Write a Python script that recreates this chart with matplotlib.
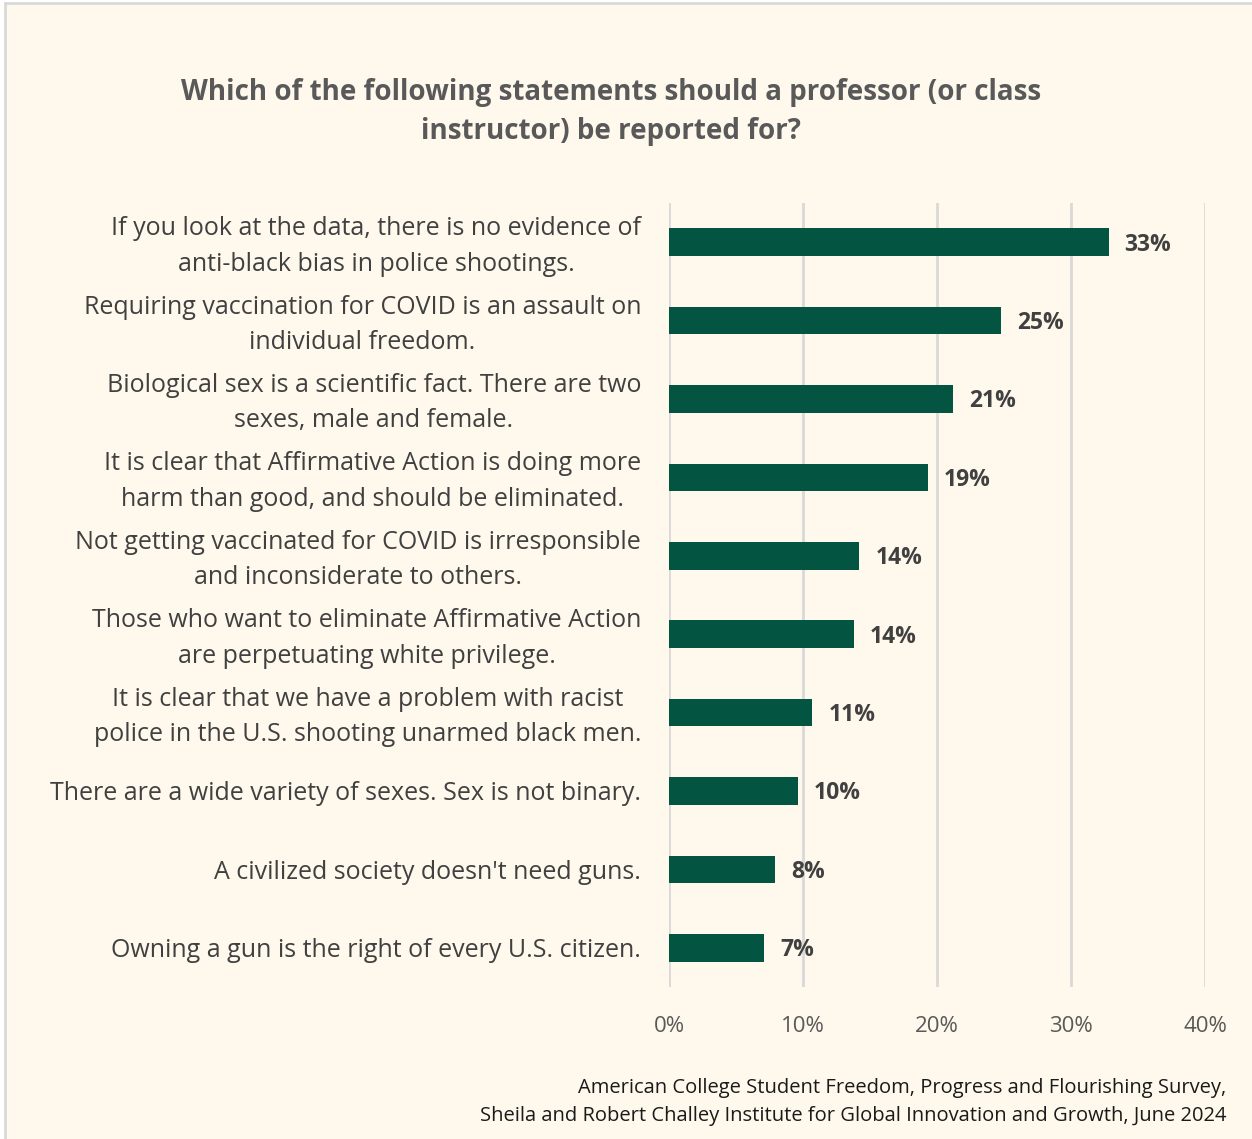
import matplotlib.pyplot as plt
from matplotlib.patches import Rectangle
from matplotlib.transforms import ScaledTranslation

# survey statements, top to bottom
statements = [
    "If you look at the data, there is no evidence of\nanti-black bias in police shootings.",
    "Requiring vaccination for COVID is an assault on\nindividual freedom.",
    "Biological sex is a scientific fact. There are two\nsexes, male and female.",
    "It is clear that Affirmative Action is doing more\nharm than good, and should be eliminated.",
    "Not getting vaccinated for COVID is irresponsible\nand inconsiderate to others.",
    "Those who want to eliminate Affirmative Action\nare perpetuating white privilege.",
    "It is clear that we have a problem with racist\npolice in the U.S. shooting unarmed black men.",
    "There are a wide variety of sexes. Sex is not binary.",
    "A civilized society doesn't need guns.",
    "Owning a gun is the right of every U.S. citizen.",
]
# share who would report the professor (%)
shares = [32.8, 24.8, 21.2, 19.3, 14.2, 13.8, 10.7, 9.6, 7.9, 7.1]
x_ticks = [0, 10, 20, 30, 40]

title = "Which of the following statements should a professor (or class\ninstructor) be reported for?"
source = ("American College Student Freedom, Progress and Flourishing Survey,\n"
          "Sheila and Robert Challey Institute for Global Innovation and Growth, June 2024")

bg = "#FEF9EC"
bar_color = "#035542"
plt.rcParams['font.family'] = ['Open Sans', 'DejaVu Sans']

fig = plt.figure(figsize=(12.52, 11.39), dpi=100, facecolor="white")
# cream panel with a light grey edge
fig.patches.append(Rectangle((5 / 1252, -0.01), 1.1, 1 - 3 / 1139 + 0.01,
                             transform=fig.transFigure, facecolor=bg,
                             edgecolor="#D9D9D9", linewidth=2, zorder=-10))

ax = fig.add_axes([669 / 1252, (1139 - 987) / 1139, 536 / 1252, 784 / 1139])
ax.set_facecolor(bg)
ax.patch.set_alpha(0)

ypos = list(range(len(statements)))
bars = ax.barh(ypos, shares, height=0.35, color=bar_color, zorder=3)

for y, v in zip(ypos, shares):
    ax.text(v + 1.2, y + 0.03, f"{v:.0f}%", va="center", ha="left",
            fontsize=16.5, fontweight="bold", color="#404040")

ax.set_xlim(0, 40)
ax.set_ylim(len(statements) - 0.5, -0.5)
ax.set_xticks(x_ticks)
ax.set_xticklabels([f"{t}%" for t in x_ticks], fontsize=16, color="#595959")
ax.set_yticks(ypos)
ax.set_yticklabels(statements, fontsize=18, color="#404040",
                   multialignment="center", linespacing=1.55)
ax.tick_params(axis="both", length=0)
ax.tick_params(axis="y", pad=20)
ax.tick_params(axis="x", pad=21)
ax.grid(axis="x", color="#D9D9D9", linewidth=2, zorder=0)
for s in ax.spines.values():
    s.set_visible(False)

# two-line statements sit a little high on their bar
nudge = ScaledTranslation(0, 4 / 100, fig.dpi_scale_trans)
for lbl in ax.get_yticklabels():
    if "\n" in lbl.get_text():
        lbl.set_transform(lbl.get_transform() + nudge)

fig.text(611 / 1252, 1 - 112 / 1139, title, ha="center", va="center",
         fontsize=20, fontweight="bold", color="#595959", linespacing=1.45)
fig.text(1226 / 1252, 1 - 1102 / 1139, source, ha="right", va="center",
         fontsize=14.5, color="#1a1a1a", linespacing=1.5)

fig.savefig("out.png", dpi=100, facecolor=fig.get_facecolor())
